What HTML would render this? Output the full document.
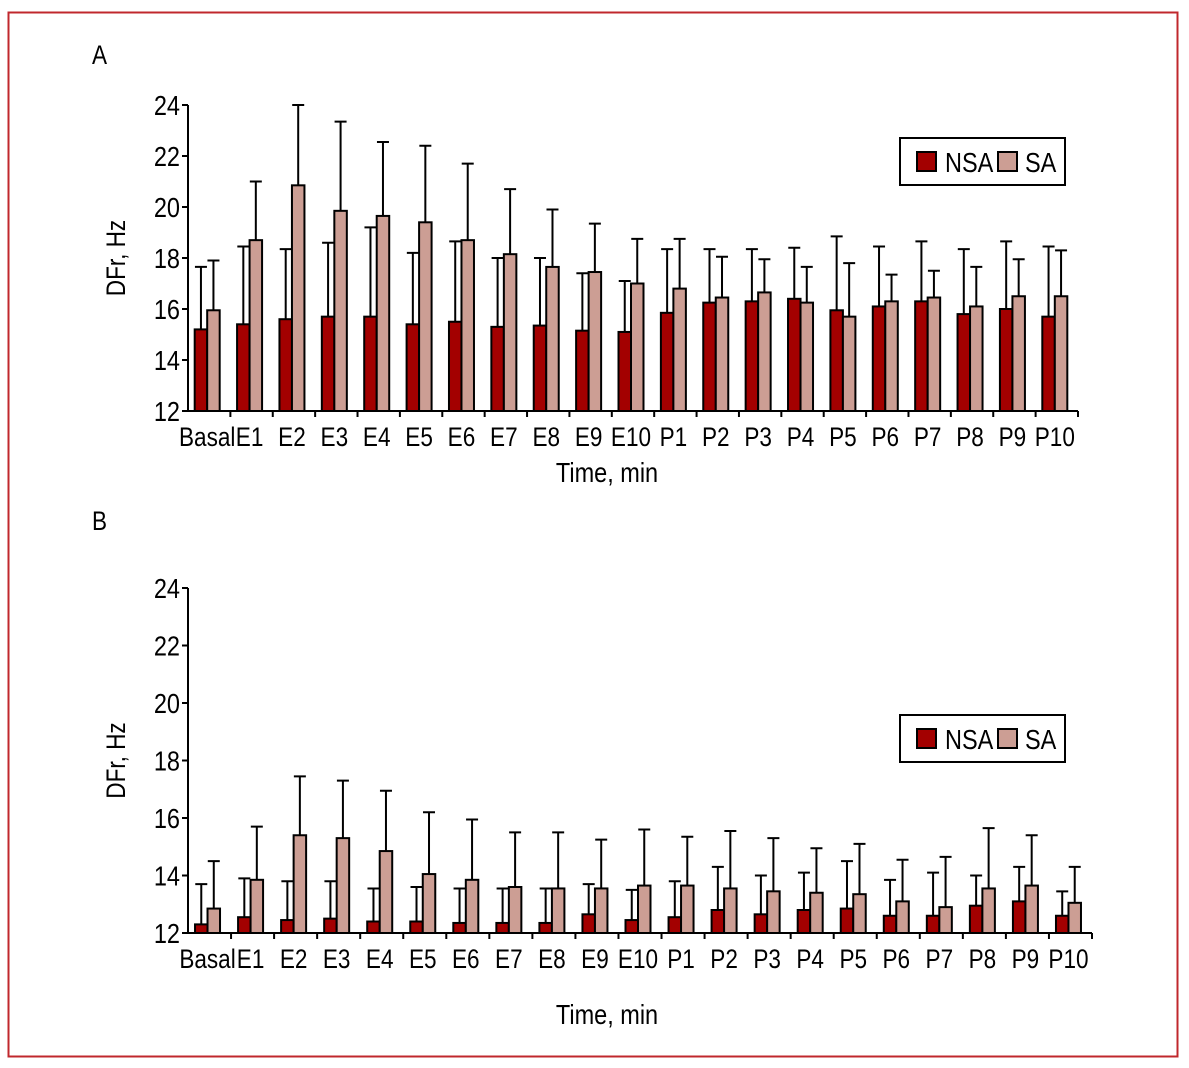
<!DOCTYPE html>
<html><head><meta charset="utf-8">
<style>
html,body{margin:0;padding:0;background:#fff;}
svg{display:block;font-family:"Liberation Sans Narrow","Liberation Sans",sans-serif;}
</style></head>
<body>
<svg id="fig" width="1189" height="1068" viewBox="0 0 1189 1068">
<rect x="8.5" y="12.5" width="1169" height="1044" fill="none" stroke="#c0282d" stroke-width="2"/>
</svg>
<script>
const categories = ["Basal","E1","E2","E3","E4","E5","E6","E7","E8","E9","E10","P1","P2","P3","P4","P5","P6","P7","P8","P9","P10"];
const yTicks = [12,14,16,18,20,22,24];
const seriesNames = ["NSA","SA"];
const aNSA = [15.2,15.4,15.6,15.7,15.7,15.4,15.5,15.3,15.35,15.15,15.1,15.85,16.25,16.3,16.4,15.95,16.1,16.3,15.8,16.0,15.7];
const aNSAerr = [17.65,18.45,18.35,18.6,19.2,18.2,18.65,18.0,18.0,17.4,17.1,18.35,18.35,18.35,18.4,18.85,18.45,18.65,18.35,18.65,18.45];
const aSA = [15.95,18.7,20.85,19.85,19.65,19.4,18.7,18.15,17.65,17.45,17.0,16.8,16.45,16.65,16.25,15.7,16.3,16.45,16.1,16.5,16.5];
const aSAerr = [17.9,21.0,24.0,23.35,22.55,22.4,21.7,20.7,19.9,19.35,18.75,18.75,18.05,17.95,17.65,17.8,17.35,17.5,17.65,17.95,18.3];
const bNSA = [12.3,12.55,12.45,12.5,12.4,12.4,12.35,12.35,12.35,12.65,12.45,12.55,12.8,12.65,12.8,12.85,12.6,12.6,12.95,13.1,12.6];
const bNSAerr = [13.7,13.9,13.8,13.8,13.55,13.6,13.55,13.55,13.55,13.7,13.5,13.8,14.3,14.0,14.1,14.5,13.85,14.1,14.0,14.3,13.45];
const bSA = [12.85,13.85,15.4,15.3,14.85,14.05,13.85,13.6,13.55,13.55,13.65,13.65,13.55,13.45,13.4,13.35,13.1,12.9,13.55,13.65,13.05];
const bSAerr = [14.5,15.7,17.45,17.3,16.95,16.2,15.95,15.5,15.5,15.25,15.6,15.35,15.55,15.3,14.95,15.1,14.55,14.65,15.65,15.4,14.3];

const NS="http://www.w3.org/2000/svg";
const svg=document.getElementById('fig');
function mk(tag,attrs,parent,text){const e=document.createElementNS(NS,tag);for(const k in attrs)e.setAttribute(k,attrs[k]);if(text!==undefined)e.textContent=text;(parent||svg).appendChild(e);return e;}
function txt(x,y,size,anchor,str,parent,rot){
  const t=mk('text',{x:0,y:0,'font-size':size,'text-anchor':anchor,transform:`translate(${x} ${y})${rot?' rotate(-90)':''} scale(0.94 1.1)`},parent,str);
  return t;
}

function panel(cfg){
  const g=mk('g',{});
  
  
  const y=v=>cfg.y0-(v-12)/12*(cfg.y0-cfg.y1);
  const bw=(cfg.x1-cfg.x0)/categories.length;
  const cx=i=>cfg.x0+bw*i+bw/2;
  const barW=12.5;
  const lbl=txt(92,cfg.labelY,24,'start',cfg.id,g);
  
  
  const sets=[[cfg.nsa,cfg.nsaErr,'#a30000',-barW],[cfg.sa,cfg.saErr,'#cc9e94',0]];
  sets.forEach((s,si)=>{
    categories.forEach((c,i)=>{
      const xl=cx(i)-2+s[3];
      const xm=xl+barW/2;
      const er=mk('path',{d:`M${xm},${y(s[0][i])}V${y(s[1][i])}M${xm-6},${y(s[1][i])}H${xm+6}`,stroke:'#000','stroke-width':2,fill:'none'},g);
      
      
      const r=mk('rect',{x:xl,y:y(s[0][i]),width:barW,height:y(12)-y(s[0][i]),fill:s[2],stroke:'#000','stroke-width':2},g);
      
      
    });
  });
  const ya=mk('line',{x1:cfg.x0,y1:y(24),x2:cfg.x0,y2:y(12),stroke:'#000','stroke-width':2},g);
  
  
  const xa=mk('line',{x1:cfg.x0-6,y1:y(12),x2:cfg.x1,y2:y(12),stroke:'#000','stroke-width':2},g);
  
  
  yTicks.forEach(t=>{
    mk('line',{x1:cfg.x0-6,y1:y(t),x2:cfg.x0,y2:y(t),stroke:'#000','stroke-width':2},g);
    const tl=txt(cfg.x0-8,y(t)+10,25,'end',t,g);
    
    
  });
  categories.forEach((c,i)=>{
    mk('line',{x1:cfg.x0+bw*(i+1),y1:y(12),x2:cfg.x0+bw*(i+1),y2:y(12)+6,stroke:'#000','stroke-width':2},g);
    const tl=txt(cx(i)-2,y(12)+35,24,'middle',c,g);
    
    
  });
  const xt=txt(607,cfg.xTitleY,25,'middle','Time, min',g);
  
  
  const yc=(y(24)+y(12))/2;
  const yt=txt(125,yc,24,'middle','DFr, Hz',g,true);
  
  
  const lg=mk('g',{},g);
  
  
  mk('rect',{x:900,y:cfg.legY,width:165,height:47,fill:'#fff',stroke:'#000','stroke-width':2},lg);
  const l1=mk('rect',{x:917,y:cfg.legY+14,width:19,height:19,fill:'#a30000',stroke:'#000','stroke-width':2},lg);
  
  
  txt(945,cfg.legY+34,25,'start','NSA',lg);
  const l2=mk('rect',{x:998,y:cfg.legY+14,width:19,height:19,fill:'#cc9e94',stroke:'#000','stroke-width':2},lg);
  
  
  txt(1025,cfg.legY+34,25,'start','SA',lg);
}
panel({id:'A',x0:188,x1:1078,y0:411,y1:105,labelY:64,xTitleY:482,legY:138,nsa:aNSA,nsaErr:aNSAerr,sa:aSA,saErr:aSAerr});
panel({id:'B',x0:188,x1:1092,y0:933,y1:588,labelY:530,xTitleY:1024,legY:715,nsa:bNSA,nsaErr:bNSAerr,sa:bSA,saErr:bSAerr});
</script>
</body></html>
